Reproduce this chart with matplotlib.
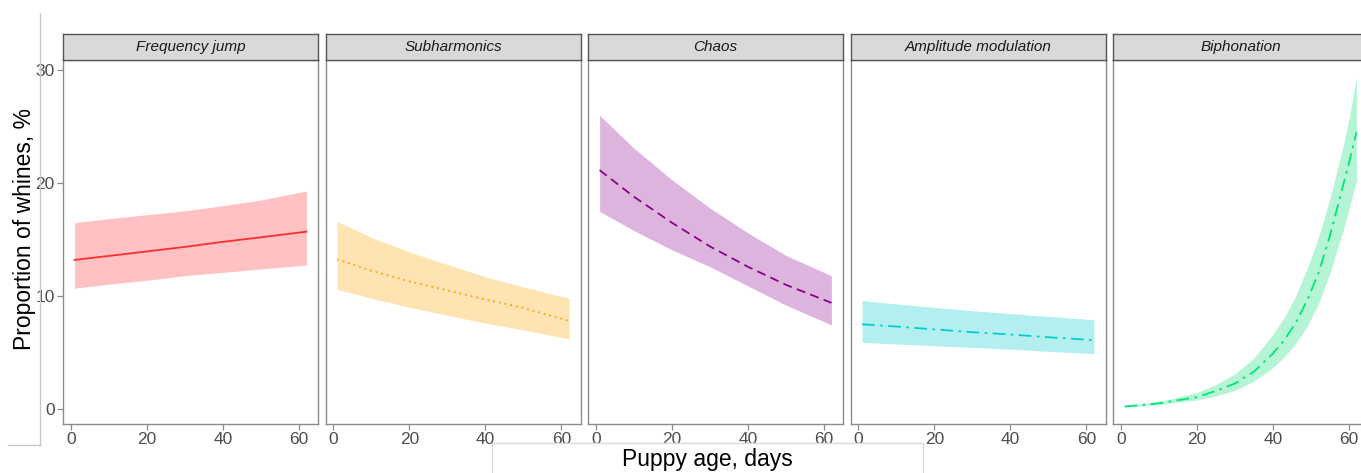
import matplotlib
matplotlib.use('Agg')
import matplotlib.pyplot as plt
from matplotlib.lines import Line2D

plt.rcParams['font.family'] = ['Liberation Sans', 'DejaVu Sans']

# facet titles
panels = ['Frequency jump', 'Subharmonics', 'Chaos', 'Amplitude modulation', 'Biphonation']

# predicted proportion (%) vs puppy age (days), with confidence band
fj_x = [1, 10, 20, 30, 40, 50, 62]
fj_fit = [13.2, 13.55, 13.95, 14.35, 14.8, 15.2, 15.7]
fj_hi = [16.5, 16.85, 17.2, 17.55, 18.0, 18.5, 19.3]
fj_lo = [10.7, 11.05, 11.4, 11.8, 12.1, 12.4, 12.75]

sub_x = [1, 10, 20, 30, 40, 50, 62]
sub_fit = [13.25, 12.25, 11.3, 10.5, 9.7, 8.95, 7.8]
sub_hi = [16.6, 15.2, 13.9, 12.8, 11.7, 10.8, 9.8]
sub_lo = [10.6, 9.8, 9.0, 8.3, 7.6, 7.0, 6.2]

chaos_x = [1, 10, 20, 30, 40, 50, 62]
chaos_fit = [21.15, 18.8, 16.5, 14.4, 12.6, 11.0, 9.4]
chaos_hi = [26.0, 23.1, 20.3, 17.8, 15.6, 13.6, 11.8]
chaos_lo = [17.5, 15.8, 14.1, 12.6, 10.9, 9.2, 7.45]

am_x = [1, 10, 20, 30, 40, 50, 62]
am_fit = [7.5, 7.3, 7.05, 6.8, 6.6, 6.35, 6.1]
am_hi = [9.6, 9.3, 9.0, 8.7, 8.45, 8.2, 7.9]
am_lo = [5.9, 5.75, 5.6, 5.45, 5.3, 5.1, 4.9]

bi_x = [1, 10, 20, 25, 30, 35, 40, 43, 46, 49, 52, 55, 58.5, 60, 62]
bi_fit = [0.22, 0.5, 1.05, 1.6, 2.25, 3.3, 4.9, 6.1, 7.6, 9.6, 12.0, 15.3, 19.8, 21.7, 24.5]
bi_hi = [0.3, 0.65, 1.45, 2.15, 3.1, 4.5, 6.6, 8.1, 10.0, 12.4, 15.2, 18.6, 23.3, 25.6, 29.4]
bi_lo = [0.15, 0.38, 0.8, 1.15, 1.65, 2.45, 3.65, 4.6, 5.8, 7.3, 9.3, 12.0, 15.8, 17.6, 20.2]

series = [
    (fj_x, fj_fit, fj_lo, fj_hi),
    (sub_x, sub_fit, sub_lo, sub_hi),
    (chaos_x, chaos_fit, chaos_lo, chaos_hi),
    (am_x, am_fit, am_lo, am_hi),
    (bi_x, bi_fit, bi_lo, bi_hi),
]
line_colors = ['#FF2E2E', '#FFA500', '#8B008B', '#00CED1', '#00E676']
band_colors = ['#FFC1C1', '#FFE3B3', '#DDB4DD', '#B3EFEF', '#B5F5D6']
styles = ['-', (0, (1, 2.2)), (0, (5, 3)), (0, (7, 3, 1.5, 3)), (0, (7, 3, 1.5, 3))]

W, H = 1361, 473
fig = plt.figure(figsize=(W / 100, H / 100), dpi=100)

lefts = [63, 325.5, 588, 850.5, 1113]
pw = 255
top, bottom = 60, 424
strip_h = 26

for i, (x, fit, lo, hi) in enumerate(series):
    ax = fig.add_axes([lefts[i] / W, 1 - bottom / H, pw / W, (bottom - top) / H])
    ax.fill_between(x, lo, hi, color=band_colors[i], lw=0)
    ax.plot(x, fit, color=line_colors[i], lw=1.3, linestyle=styles[i])
    ax.set_xlim(-2.05, 65.05)
    ax.set_ylim(-1.33, 30.9)
    ax.set_xticks([0, 20, 40, 60])
    ax.set_yticks([0, 10, 20, 30])
    for s in ax.spines.values():
        s.set_color('#8C8C8C')
        s.set_linewidth(1.0)
    ax.tick_params(colors='#8C8C8C', labelcolor='#4D4D4D', labelsize=12.5,
                   length=4, width=0.9, pad=2)
    if i > 0:
        ax.tick_params(axis='y', left=False, labelleft=False)

    # facet strip
    sax = fig.add_axes([lefts[i] / W, 1 - top / H, pw / W, strip_h / H])
    sax.set_xticks([])
    sax.set_yticks([])
    sax.set_facecolor('#D9D9D9')
    for s in sax.spines.values():
        s.set_color('#555555')
        s.set_linewidth(1.0)
    sax.text(0.5, 0.5, panels[i], ha='center', va='center', style='italic',
             fontsize=11, color='#1A1A1A', transform=sax.transAxes)

fig.text(25 / W, 1 - 229 / H, 'Proportion of whines, %', rotation=90,
         ha='center', va='center', fontsize=16.5)
fig.text(707 / W, 1 - 459 / H, 'Puppy age, days', ha='center', va='center',
         fontsize=16.5)

# light frame lines left over from the composed figure
fig.add_artist(Line2D([39.5 / W, 39.5 / W], [1 - 13 / H, 1 - 445 / H],
                      transform=fig.transFigure, color='#C8C8C8', lw=1))
fig.add_artist(Line2D([8 / W, 39.5 / W], [1 - 445 / H, 1 - 445 / H],
                      transform=fig.transFigure, color='#C8C8C8', lw=1))
fig.add_artist(Line2D([492 / W, 492 / W, 923 / W, 923 / W],
                      [0, 1 - 443 / H, 1 - 443 / H, 0],
                      transform=fig.transFigure, color='#DADADA', lw=1))

fig.savefig('out.png', dpi=100)
